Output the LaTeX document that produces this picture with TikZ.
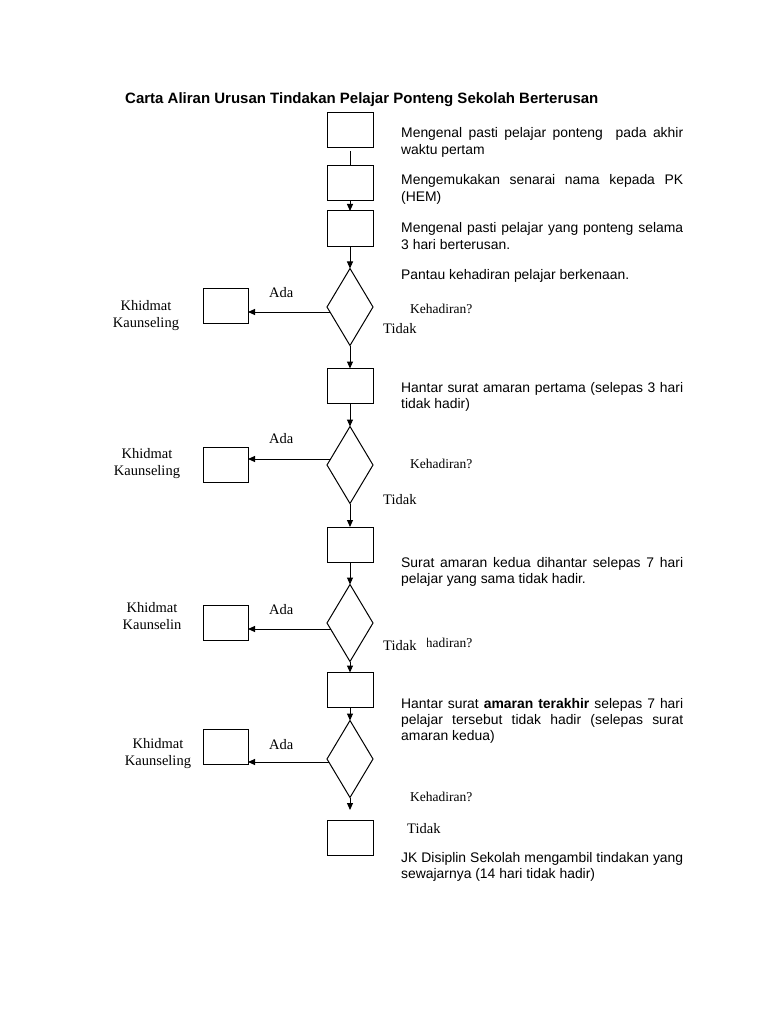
\documentclass[tikz,border=0pt]{standalone}
\usepackage{fontspec}
\setmainfont{Liberation Serif}
\newfontfamily\arialf{Liberation Sans}
\usetikzlibrary{arrows.meta,shapes.geometric}
\begin{document}
\begin{tikzpicture}[x=1pt,y=-1pt,
  box/.style={draw,line width=1pt,minimum width=46pt,minimum height=35pt,inner sep=0pt,outer sep=0pt},
  lbox/.style={box,minimum width=45pt},
  dia/.style={draw,diamond,line width=1pt,minimum width=46pt,minimum height=77pt,inner sep=0pt,outer sep=0pt},
  arr/.style={line width=1pt,-{Triangle[length=7pt,width=6pt]}},
  ln/.style={line width=1pt},
  desc/.style={font=\arialf\fontsize{13.9}{16.4}\selectfont,text width=282pt,align=justify,inner sep=0pt,anchor=base west},
  lbl/.style={font=\fontsize{14.5}{17}\selectfont,inner sep=0pt,anchor=base west},
  kh/.style={font=\fontsize{13.5}{16}\selectfont,inner sep=0pt,anchor=base west},
  svc/.style={font=\fontsize{14.5}{17.5}\selectfont,inner sep=0pt,align=center,anchor=base},
]
\fill[white] (0,0) rectangle (768,1024);
\useasboundingbox (0,0) rectangle (768,1024);

\node[font=\arialf\bfseries\fontsize{15}{18}\selectfont,inner sep=0pt,anchor=base west] (title) at (125,104) {Carta Aliran Urusan Tindakan Pelajar Ponteng Sekolah Berterusan};

% main column
\node[box] (b1) at (350,130) {};
\node[box] (b2) at (350,183) {};
\node[box] (b3) at (350,228.5) {};
\node[dia] (d1) at (350,307) {};
\node[box] (b4) at (350,386) {};
\node[dia] (d2) at (350,465) {};
\node[box] (b5) at (350,544.5) {};
\node[dia] (d3) at (350,623) {};
\node[box] (b6) at (350,690) {};
\node[dia] (d4) at (350,759) {};
\node[box] (b7) at (350,838) {};
\coordinate (e4) at (350,810);

% left boxes
\node[lbox] (k1) at (225.5,306) {};
\node[lbox] (k2) at (225.5,464.5) {};
\node[lbox] (k3) at (225.5,622.5) {};
\node[lbox] (k4) at (225.5,747) {};

% vertical connectors
\draw[ln] ([yshift=-4pt]b1.south) -- (b2.north);
\draw[arr] (b2) -- (b3);
\draw[arr] (b3) -- (d1);
\draw[arr] (d1) -- (b4);
\draw[arr] (b4) -- (d2);
\draw[arr] (d2) -- (b5);
\draw[arr] (b5) -- (d3);
\draw[arr] (d3) -- (b6);
\draw[arr] (b6) -- (d4);
\draw[arr] (d4) -- (e4);

% horizontal connectors
\draw[arr] ([yshift=-5pt,xshift=3pt]d1.west) -- ([yshift=-5pt]d1.west -| k1.east);
\draw[arr] ([yshift=6pt,xshift=3.5pt]d2.west) -- ([yshift=6pt]d2.west -| k2.east);
\draw[arr] ([yshift=-6pt,xshift=3.5pt]d3.west) -- ([yshift=-6pt]d3.west -| k3.east);
\draw[arr] ([yshift=-3pt,xshift=2pt]d4.west) -- ([yshift=-3pt]d4.west -| k4.east);

% labels group 1
\node[svc] (s1) at (146,327.5) {Khidmat\\Kaunseling};
\node[lbl] (a1) at (269,297) {Ada};
\node[kh] (q1) at (410,313) {Kehadiran?};
\node[lbl] (t1) at (383,333) {Tidak};
% group 2
\node[svc] (s2) at (147,475.5) {Khidmat\\Kaunseling};
\node[lbl] (a2) at (269,443) {Ada};
\node[kh] (q2) at (410,468) {Kehadiran?};
\node[lbl] (t2) at (383,504) {Tidak};
% group 3
\node[svc] (s3) at (152,629.5) {Khidmat\\Kaunselin};
\node[lbl] (a3) at (269,614) {Ada};
\node[kh] (q3) at (410,647) {Kehadiran?};
\node[lbl,fill=white,inner xsep=2pt,inner ysep=3pt] (t3) at (381,650) {Tidak\hspace*{8.5pt}};
% group 4
\node[svc] (s4) at (158,765.5) {Khidmat\\Kaunseling};
\node[lbl] (a4) at (269,749) {Ada};
\node[kh] (q4) at (410,801) {Kehadiran?};
\node[lbl] (t4) at (407,833) {Tidak};

% descriptions
\node[desc] (p1) at (401,138) {Mengenal pasti pelajar ponteng\ \ pada akhir\linebreak waktu pertam};
\node[desc] (p2) at (401,185) {Mengemukakan senarai nama kepada PK\linebreak (HEM)};
\node[desc] (p3) at (401,233) {Mengenal pasti pelajar yang ponteng selama\linebreak 3 hari berterusan.};
\node[desc] (p4) at (401,279) {Pantau kehadiran pelajar berkenaan.};
\node[desc] (p5) at (401,392) {Hantar surat amaran pertama (selepas 3 hari\linebreak tidak hadir)};
\node[desc] (p6) at (401,567) {Surat amaran kedua dihantar selepas 7 hari\linebreak pelajar yang sama tidak hadir.};
\node[desc] (p7) at (401,708) {Hantar surat \textbf{amaran terakhir} selepas 7 hari\linebreak pelajar tersebut tidak hadir (selepas surat\linebreak amaran kedua)};
\node[desc] (p8) at (401,862) {JK Disiplin Sekolah mengambil tindakan yang\linebreak sewajarnya (14 hari tidak hadir)};
\end{tikzpicture}
\end{document}
